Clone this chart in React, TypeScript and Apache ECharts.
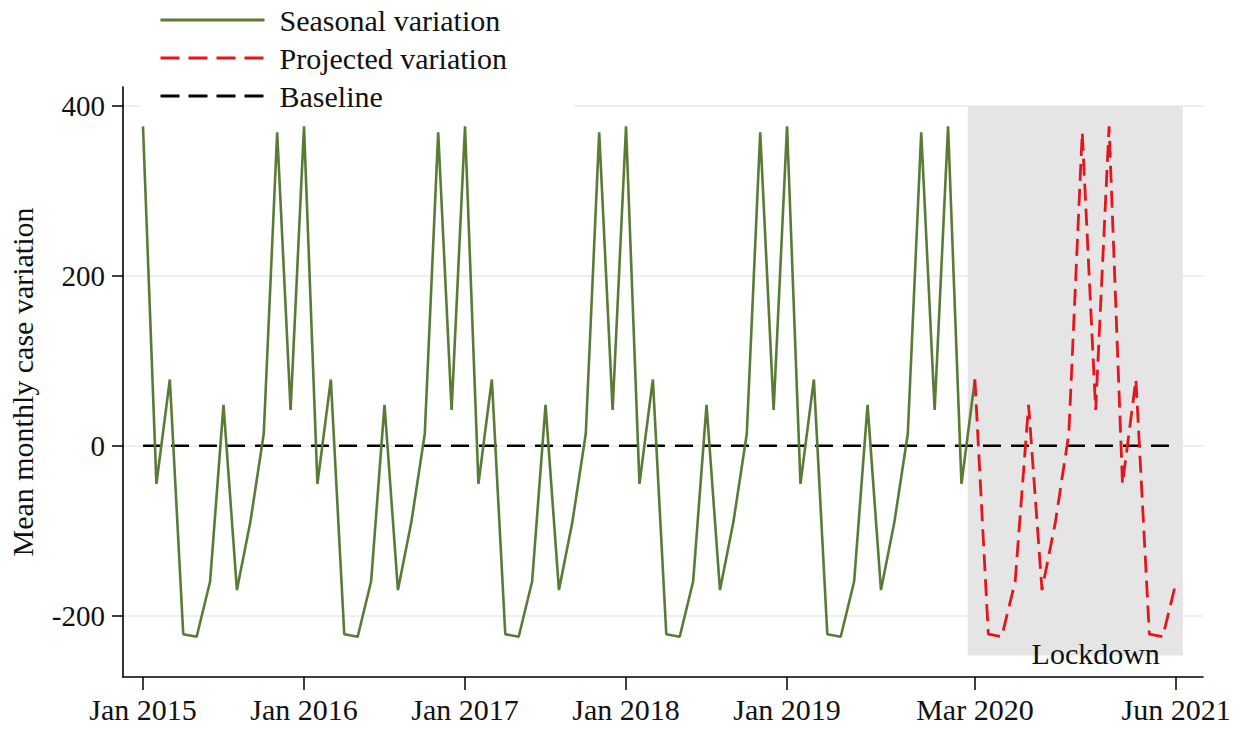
import React, { useEffect, useRef } from "react";
import * as echarts from "echarts";

// Month index 0 = Jan 2015
const seasonalStartMonth = 0; // Jan 2015
const seasonalValues = [
  376, -45, 78, -222, -225, -160, 48, -170, -90, 14, 369, 42, // 2015
  376, -45, 78, -222, -225, -160, 48, -170, -90, 14, 369, 42, // 2016
  376, -45, 78, -222, -225, -160, 48, -170, -90, 14, 369, 42, // 2017
  376, -45, 78, -222, -225, -160, 48, -170, -90, 14, 369, 42, // 2018
  376, -45, 78, -222, -225, -160, 48, -170, -90, 14, 369, 42, // 2019
  376, -45, 78, // 2020 Jan-Mar
];

const projectedStartMonth = 62; // Mar 2020
const projectedValues = [
  78, -222, -225, -160, 48, -170, -90, 14, 369, 42, // Mar-Dec 2020
  376, -45, 78, -222, -225, -160, // Jan-Jun 2021
];

const baselineMonths = [0, 77];
const baselineValues = [0, 0];

const xTickMonths = [0, 12, 24, 36, 48, 62, 77];
const xTickLabels = ["Jan 2015", "Jan 2016", "Jan 2017", "Jan 2018", "Jan 2019", "Mar 2020", "Jun 2021"];
const yTickValues = [-200, 0, 200, 400];
const gridValues = [-200, 0, 200, 400];

const lockdownMonths = [61.47, 77.5];
const lockdownValues = [-247, 400];

const FONT = "'Liberation Serif', 'DejaVu Serif', serif";
const GREEN = "#5a7b36";
const RED = "#e8141c";

const hiddenSymbol = { color: "transparent", borderWidth: 0, opacity: 0 };

export default function App() {
  const ref = useRef<HTMLDivElement>(null);

  useEffect(() => {
    if (!ref.current) return;
    const chart = echarts.init(ref.current, null, { renderer: "svg" });

    const seasonalData = seasonalValues.map((v, i) => [seasonalStartMonth + i, v]);
    const projectedData = projectedValues.map((v, i) => [projectedStartMonth + i, v]);
    const baselineData = baselineMonths.map((m, i) => [m, baselineValues[i]]);

    chart.setOption({
      animation: false,
      backgroundColor: "#fff",
      grid: { left: 123, right: 38, top: 87, bottom: 59, containLabel: false, outerBoundsMode: "none" },
      legend: {
        orient: "vertical",
        left: 139,
        top: 0,
        padding: [5, 67, 2, 20],
        backgroundColor: "#fff",
        itemWidth: 104,
        itemHeight: 30,
        itemGap: 8,
        z: 10,
        textStyle: { fontFamily: FONT, fontSize: 30, color: "#111", lineHeight: 30, padding: [0, 0, 0, 10] },
        data: [
          { name: "Seasonal variation", itemStyle: hiddenSymbol, lineStyle: { color: GREEN, width: 3, type: "solid" } },
          { name: "Projected variation", itemStyle: hiddenSymbol, lineStyle: { color: RED, width: 3, type: [19, 9] } },
          { name: "Baseline", itemStyle: hiddenSymbol, lineStyle: { color: "#000", width: 3, type: [19, 9] } },
        ],
      },
      xAxis: {
        type: "value",
        min: -1.49,
        max: 79,
        axisLine: { show: true, onZero: false, lineStyle: { color: "#000", width: 1.6 } },
        axisTick: { show: true, length: 13, customValues: xTickMonths, lineStyle: { color: "#000", width: 1.5 } },
        axisLabel: {
          customValues: xTickMonths,
          margin: 17,
          fontFamily: FONT,
          fontSize: 30,
          color: "#111",
          formatter: (v: number) => {
            const idx = xTickMonths.indexOf(Math.round(v));
            return idx >= 0 ? xTickLabels[idx] : "";
          },
        },
        splitLine: { show: false },
      },
      yAxis: {
        type: "value",
        min: -272.4,
        max: 422.4,
        name: "Mean monthly case variation",
        nameLocation: "middle",
        nameRotate: 90,
        nameGap: 86,
        nameTextStyle: { fontFamily: FONT, fontSize: 30, color: "#111" },
        axisLine: { show: true, onZero: false, lineStyle: { color: "#000", width: 1.6 } },
        axisTick: { show: true, length: 11, customValues: yTickValues, lineStyle: { color: "#000", width: 1.5 } },
        axisLabel: {
          customValues: yTickValues,
          margin: 18,
          fontFamily: FONT,
          fontSize: 29,
          color: "#111",
        },
        splitLine: { show: false },
      },
      series: [
        {
          name: "grid",
          type: "line",
          data: [],
          z: 1,
          silent: true,
          markLine: {
            silent: true,
            z: 0,
            symbol: "none",
            label: { show: false },
            lineStyle: { color: "#e4ebeb", width: 1.5, type: "solid" },
            data: gridValues.map((v) => ({ yAxis: v })),
          },
        },
        {
          name: "lockdown",
          type: "line",
          data: [],
          z: 1,
          silent: true,
          markArea: {
            silent: true,
            z: 1,
            itemStyle: { color: "#e5e5e5" },
            label: {
              show: true,
              position: ["100%", "100%"],
              align: "right",
              verticalAlign: "middle",
              offset: [-23, -2],
              fontFamily: FONT,
              fontSize: 30,
              color: "#111",
            },
            data: [
              [
                { name: "Lockdown", xAxis: lockdownMonths[0], yAxis: lockdownValues[1] },
                { xAxis: lockdownMonths[1], yAxis: lockdownValues[0] },
              ],
            ],
          },
        },
        {
          name: "Baseline",
          type: "line",
          data: baselineData,
          symbol: "none",
          z: 3,
          itemStyle: { color: "#000" },
          lineStyle: { color: "#000", width: 2.6, type: [18, 10] },
        },
        {
          name: "Seasonal variation",
          type: "line",
          data: seasonalData,
          symbol: "none",
          z: 4,
          itemStyle: { color: GREEN },
          lineStyle: { color: GREEN, width: 2.6 },
        },
        {
          name: "Projected variation",
          type: "line",
          data: projectedData,
          symbol: "none",
          z: 4,
          itemStyle: { color: RED },
          lineStyle: { color: RED, width: 2.8, type: [17, 8] },
        },
      ],
    });

    return () => chart.dispose();
  }, []);

  return <div ref={ref} style={{ position: "fixed", left: 0, top: 0, width: 1241, height: 736 }} />;
}
